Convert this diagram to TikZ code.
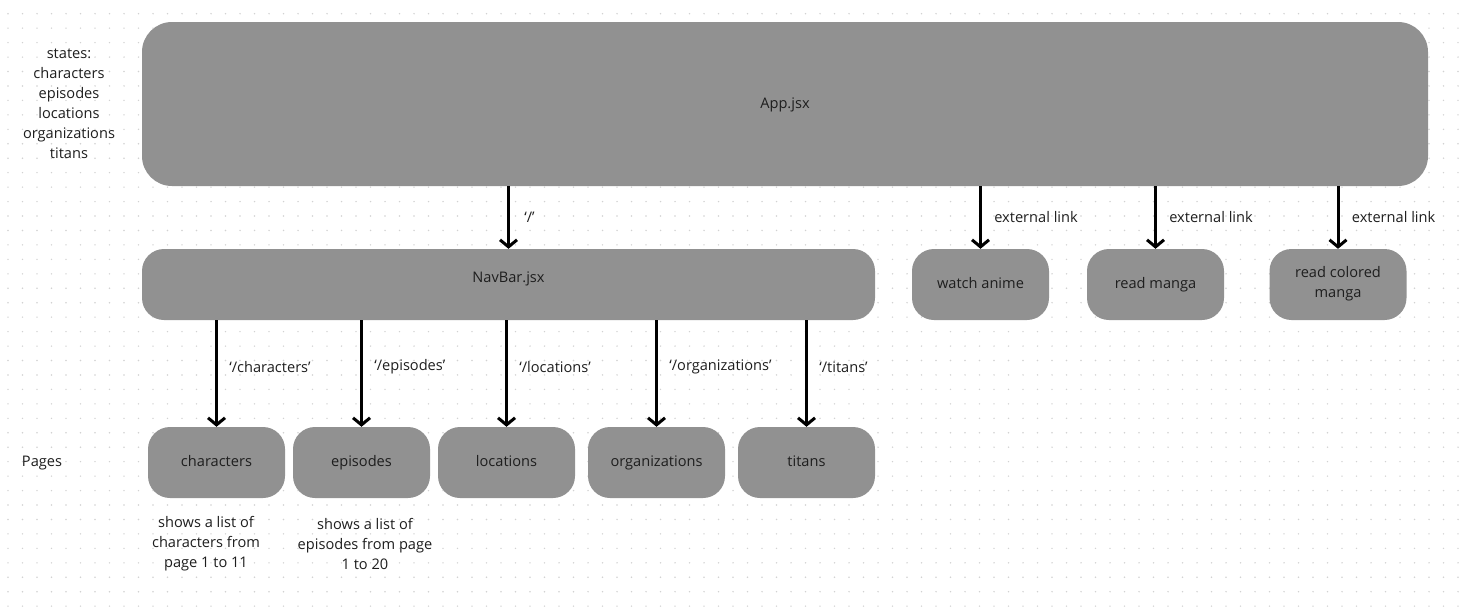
\documentclass[tikz,border=0pt]{standalone}
\usepackage{fontspec}
\setmainfont{Open Sans}
\usetikzlibrary{arrows.meta, positioning}
\definecolor{boxgrey}{HTML}{919191}
\definecolor{dotgrey}{HTML}{D2D2D2}
\definecolor{inkgrey}{HTML}{1E1E1E}

\begin{document}
\begin{tikzpicture}[x=1pt, y=-1pt, font=\fontsize{14.6}{20}\selectfont, text=inkgrey,
  block/.style={fill=boxgrey, rounded corners=22pt, minimum height=71pt, minimum width=137pt, align=center, inner sep=0pt, execute at begin node=\strut},
  link/.style={-{Straight Barb[length=7pt, width=17pt]}, line width=3pt},
  note/.style={align=center}]
\useasboundingbox[fill=white] (0,0) rectangle (1482,613);
% dotted canvas
\foreach \i in {0,...,100} {\foreach \j in {0,...,41} {\fill[dotgrey] (8+\i*14.5, 13.7+\j*14.45) circle (0.8);}}

\node[block, minimum width=1286pt, minimum height=164pt, rounded corners=30pt] (app) at (785,104) {App.jsx};
\node[block, minimum width=733pt] (nav) at (508.5,284.5) {\raisebox{8pt}{NavBar.jsx}};
\draw[link] (app.south -| nav.north) -- node[right=11pt] {‘/’} (nav.north);

% external links
\foreach \name/\txt/\cx in {anime/watch anime/980.5, manga/read manga/1155.5, colored/read colored\\manga/1338} {
  \node[block] (\name) at (\cx,284.5) {\txt};
  \draw[link] (app.south -| \name.north) -- node[right=9pt] {external link} (\name.north);
}

% pages
\foreach \name/\txt/\cx in {chars/characters/216.5, eps/episodes/361.5, locs/locations/506.5, orgs/organizations/656.5, tits/titans/806.5} {
  \node[block] (\name) at (\cx,462.5) {\txt};
  \draw[link] (nav.south -| \name.north) -- node[right=8pt, pos=0.44] {‘/\txt’} (\name.north);
}

\node[note] (states) at (69,104) {states:\\characters\\episodes\\locations\\organizations\\titans};
\node (pages) at (42,463) {Pages};
\node[note] (charsnote) at (206,544) {shows a list of\\characters from\\page 1 to 11};
\node[note] (epsnote) at (365,544) {shows a list of\\episodes from page\\1 to 20};
\end{tikzpicture}
\end{document}
